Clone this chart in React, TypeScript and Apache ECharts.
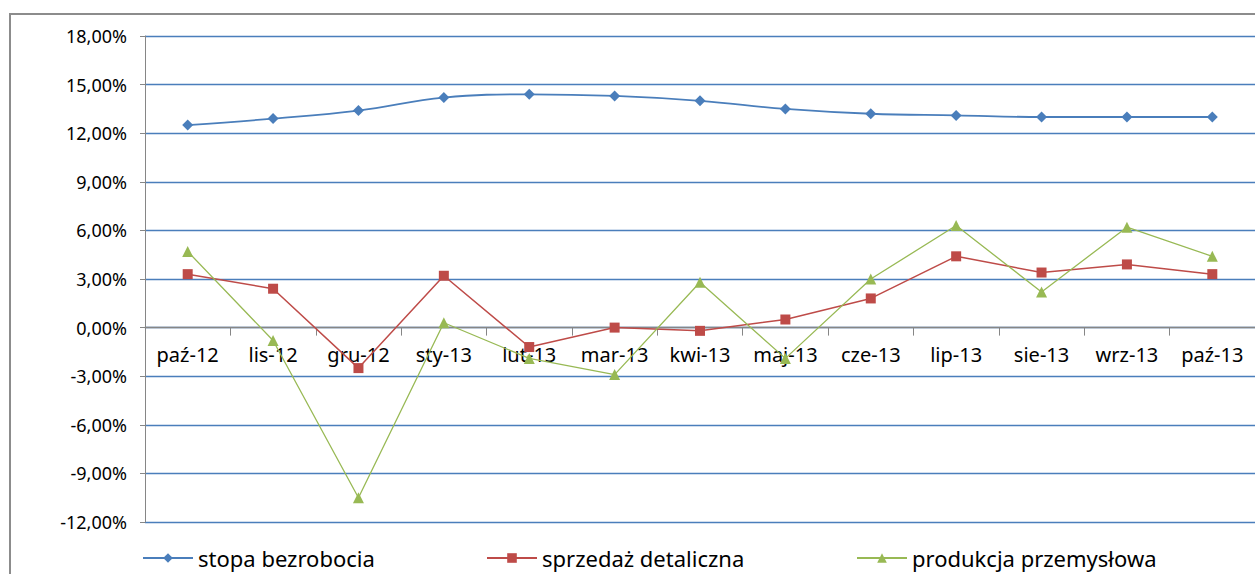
import React, { useEffect, useRef } from "react";
import * as echarts from "echarts";

const categories = ["paź-12", "lis-12", "gru-12", "sty-13", "lut-13", "mar-13", "kwi-13", "maj-13", "cze-13", "lip-13", "sie-13", "wrz-13", "paź-13"];
const stopaBezrobocia = [12.5, 12.9, 13.4, 14.2, 14.4, 14.3, 14.0, 13.5, 13.2, 13.1, 13.0, 13.0, 13.0];
const sprzedazDetaliczna = [3.3, 2.4, -2.5, 3.2, -1.2, 0.0, -0.2, 0.5, 1.8, 4.4, 3.4, 3.9, 3.3];
const produkcjaPrzemyslowa = [4.7, -0.8, -10.5, 0.3, -1.9, -2.9, 2.8, -1.9, 3.0, 6.3, 2.2, 6.2, 4.4];
const seriesNames = ["stopa bezrobocia", "sprzedaż detaliczna", "produkcja przemysłowa"];
const yMin = -12;
const yMax = 18;
const yStep = 3;

const FONT = "'Noto Sans', sans-serif";
const GRID_TOP = 36;
const GRID_HEIGHT = 486;

export default function App() {
  const ref = useRef<HTMLDivElement>(null);
  useEffect(() => {
    document.body.style.margin = "0";
    const chart = echarts.init(ref.current!, null, { renderer: "svg" });
    const legendBase = {
      top: 542,
      itemWidth: 50,
      itemHeight: 12,
      itemGap: 5,
      textStyle: { fontFamily: FONT, fontSize: 22, color: "#000" },
    };
    const zeroOffset = -(GRID_HEIGHT * (0 - yMin)) / (yMax - yMin);
    chart.setOption({
      animation: false,
      backgroundColor: "#fff",
      color: ["#4A7EBB", "#BE4B48", "#98B954"],
      grid: { left: 145, top: GRID_TOP, width: 1114, height: GRID_HEIGHT, containLabel: false },
      graphic: [
        {
          type: "rect",
          shape: { x: 10, y: 14, width: 1400, height: 700 },
          style: { fill: "none", stroke: "#8C8C8C", lineWidth: 2 },
          silent: true,
          z: 100,
        },
      ],
      legend: [
        { ...legendBase, left: 137, data: [seriesNames[0]] },
        { ...legendBase, left: 481, data: [seriesNames[1]] },
        { ...legendBase, left: 851, data: [seriesNames[2]] },
      ],
      xAxis: {
        type: "category",
        data: categories,
        boundaryGap: true,
        offset: zeroOffset,
        z: 5,
        axisLine: { onZero: false, lineStyle: { color: "#868686", width: 1.3 } },
        axisTick: { show: true, length: 8, interval: 0, lineStyle: { color: "#868686" } },
        axisLabel: { fontFamily: FONT, fontSize: 20, color: "#000", margin: 17, interval: 0 },
        splitLine: { show: false },
      },
      yAxis: {
        type: "value",
        min: yMin,
        max: yMax,
        interval: yStep,
        z: 1,
        axisLine: { show: true, lineStyle: { color: "#868686", width: 1 } },
        axisTick: { show: true, length: 5, lineStyle: { color: "#868686" } },
        axisLabel: {
          fontFamily: FONT,
          fontSize: 18,
          color: "#000",
          margin: 18,
          formatter: (v: number) => v.toFixed(2).replace(".", ",") + "%",
        },
        splitLine: { show: true, lineStyle: { color: "#4A7EBB", width: 1.3 } },
      },
      series: [
        {
          name: seriesNames[0],
          type: "line",
          data: stopaBezrobocia,
          smooth: 0.4,
          symbol: "diamond",
          symbolSize: 11,
          lineStyle: { width: 1.8, color: "#4A7EBB" },
          itemStyle: { color: "#4A7EBB" },
          z: 6,
        },
        {
          name: seriesNames[1],
          type: "line",
          data: sprzedazDetaliczna,
          symbol: "rect",
          symbolSize: 10,
          lineStyle: { width: 1.5, color: "#BE4B48" },
          itemStyle: { color: "#BE4B48" },
          z: 6,
        },
        {
          name: seriesNames[2],
          type: "line",
          data: produkcjaPrzemyslowa,
          symbol: "triangle",
          symbolSize: 11,
          lineStyle: { width: 1.3, color: "#98B954" },
          itemStyle: { color: "#98B954" },
          z: 7,
        },
      ],
    });
    return () => chart.dispose();
  }, []);
  return <div ref={ref} style={{ width: 1255, height: 574 }} />;
}
